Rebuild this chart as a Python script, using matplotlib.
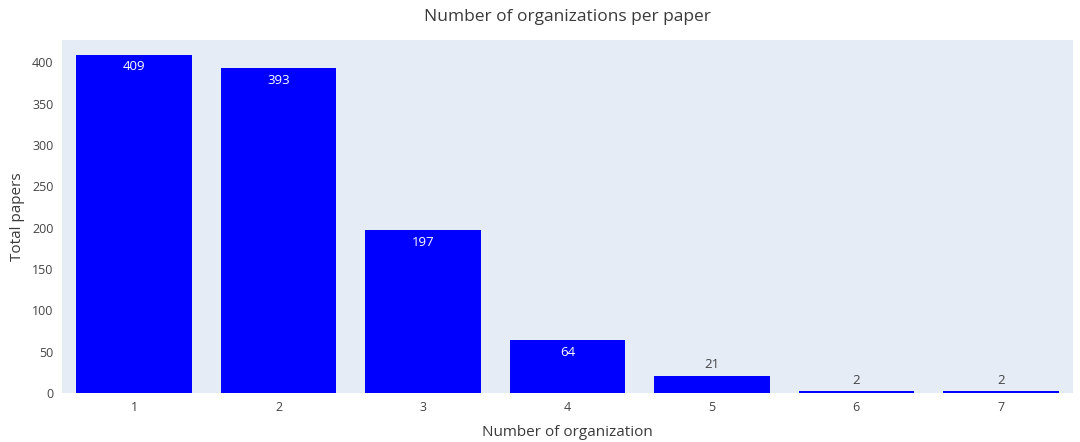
import matplotlib.pyplot as plt

plt.rcParams['font.family'] = ['Open Sans', 'DejaVu Sans']

# data
n_orgs = [1, 2, 3, 4, 5, 6, 7]
papers = [409, 393, 197, 64, 21, 2, 2]

fig = plt.figure(figsize=(10.8, 4.42), dpi=100)
ax = fig.add_axes([0.0574, 0.1109, 0.9361, 0.7986])
ax.set_facecolor('#E5ECF6')

bars = ax.bar(n_orgs, papers, width=0.8, color='#0000FF')

ax.set_xlim(0.5, 7.5)
ax.set_ylim(0, 427)
ax.set_xticks(n_orgs)
ax.set_yticks(range(0, 401, 50))

# labels inside the bar when there's room, otherwise above it
for x, v in zip(n_orgs, papers):
    if v > 40:
        ax.annotate(str(v), (x, v), xytext=(0, -4), textcoords='offset points',
                    ha='center', va='top', color='white', fontsize=9.5)
    else:
        ax.annotate(str(v), (x, v), xytext=(0, 3), textcoords='offset points',
                    ha='center', va='bottom', color='#444444', fontsize=9.5)

for s in ax.spines.values():
    s.set_visible(False)
ax.tick_params(length=0, labelsize=9, colors='#444444', pad=6)

ax.set_xlabel('Number of organization', fontsize=11, color='#3a3a3a', labelpad=8)
ax.set_ylabel('Total papers', fontsize=11, color='#3a3a3a', labelpad=5)
ax.set_title('Number of organizations per paper', fontsize=12.5, color='#3a3a3a', pad=14)

fig.savefig('out.png', dpi=100)
